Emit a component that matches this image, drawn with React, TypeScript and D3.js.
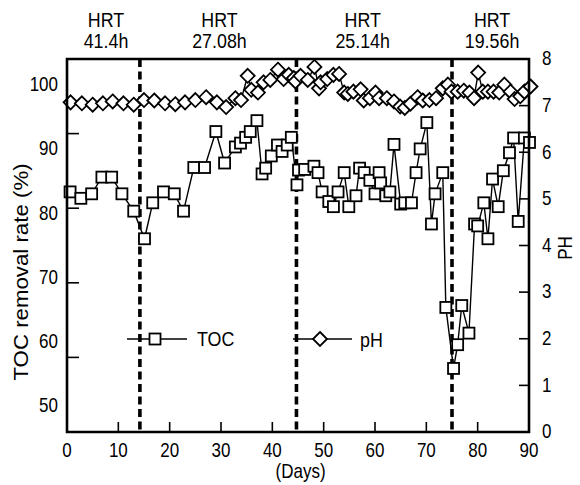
import React from "react";
import * as d3 from "d3";

const tocDays = [0.6, 2.7, 4.8, 6.8, 8.7, 10.7, 13.0, 15.1, 16.7, 18.8, 20.9, 22.7, 24.7, 26.8, 29.0, 30.7, 32.8, 33.8, 34.8, 35.7, 37.0, 38.0, 38.7, 39.8, 41.0, 41.9, 42.9, 43.7, 44.8, 45.1, 46.3, 48.1, 48.9, 49.7, 51.0, 51.9, 52.8, 54.0, 54.9, 56.3, 57.0, 57.9, 59.0, 60.0, 60.8, 61.1, 62.1, 62.9, 63.7, 65.0, 65.8, 67.1, 68.0, 68.8, 70.1, 71.0, 71.7, 73.2, 73.8, 75.3, 76.1, 76.9, 78.3, 79.4, 80.0, 81.2, 82.0, 82.9, 84.0, 85.0, 86.2, 87.0, 87.9, 89.1, 90.1];
const tocValues = [83.5, 82.5, 83.2, 85.8, 85.8, 83.2, 80.5, 76.2, 81.8, 83.5, 83.2, 80.5, 87.3, 87.3, 92.9, 88.0, 90.5, 91.1, 92.0, 92.9, 94.6, 86.3, 87.2, 89.1, 90.8, 89.8, 90.8, 92.0, 84.6, 86.9, 87.0, 87.5, 86.5, 83.5, 82.0, 81.2, 83.5, 86.5, 81.2, 82.9, 87.2, 86.5, 85.3, 83.2, 86.5, 84.9, 82.9, 83.5, 90.9, 81.6, 81.8, 81.8, 86.5, 90.2, 94.3, 78.5, 83.2, 86.5, 65.5, 56.0, 59.7, 65.8, 61.5, 78.5, 78.2, 81.8, 76.2, 85.5, 81.2, 86.8, 89.6, 91.9, 78.9, 91.9, 91.2];

const phDays = [0.7, 2.9, 5.0, 7.0, 8.9, 11.0, 13.0, 15.0, 17.0, 19.1, 21.1, 23.0, 25.0, 27.1, 29.2, 31.0, 32.8, 33.9, 35.2, 35.9, 37.2, 38.3, 39.6, 41.1, 42.2, 43.2, 44.2, 44.5, 45.5, 46.9, 48.2, 49.1, 49.4, 50.7, 51.9, 53.0, 54.0, 54.7, 55.8, 57.2, 57.8, 59.0, 60.1, 60.8, 62.3, 63.7, 64.9, 65.8, 66.9, 68.3, 69.3, 70.6, 71.9, 73.2, 74.2, 74.9, 76.1, 77.3, 78.4, 79.3, 80.1, 81.0, 82.0, 83.1, 84.2, 85.2, 86.4, 87.2, 88.3, 89.1, 90.3];
const phValues = [7.07, 7.05, 7.02, 7.05, 7.09, 7.05, 7.02, 7.12, 7.11, 7.05, 7.03, 7.07, 7.12, 7.18, 7.07, 6.97, 7.16, 7.12, 7.64, 7.34, 7.28, 7.50, 7.55, 7.77, 7.57, 7.66, 7.59, 7.52, 7.64, 7.55, 7.83, 7.37, 7.50, 7.57, 7.66, 7.68, 7.28, 7.25, 7.30, 7.35, 7.11, 7.16, 7.28, 7.16, 7.16, 7.09, 6.98, 6.95, 7.04, 7.18, 7.11, 7.12, 7.16, 7.37, 7.45, 7.30, 7.30, 7.32, 7.28, 7.16, 7.71, 7.30, 7.30, 7.30, 7.28, 7.45, 7.30, 7.14, 7.20, 7.30, 7.41];

const xTicks = [0, 10, 20, 30, 40, 50, 60, 70, 80, 90];
const leftTicks = [50, 60, 70, 80, 90, 100];
const rightTicks = [0, 1, 2, 3, 4, 5, 6, 7, 8];
const hrtDays = [14.2, 44.7, 75.0];
const hrtLabelDays = [7.6, 29.7, 57.6, 82.8];
const hrtLabels = ["41.4h", "27.08h", "25.14h", "19.56h"];

const FONT = "'Liberation Sans', Arial, sans-serif";
const SX = 0.85;

function T({ x, y, size, anchor = "middle", rotate = 0, sx = SX, children }: any) {
  return (
    <text
      transform={`translate(${x},${y}) rotate(${rotate}) scale(${sx},1)`}
      fontSize={size}
      textAnchor={anchor}
      dominantBaseline="middle"
    >
      {children}
    </text>
  );
}

export default function App() {
  const x = d3.scaleLinear().domain([0, 90]).range([67, 529]);
  const yL = d3.scaleLinear().domain([46.1, 104.2]).range([432, 59]);
  const yR = d3.scaleLinear().domain([0, 8]).range([432, 59]);
  const [x0, x1] = x.range();
  const [yb, yt] = yL.range();

  const toc = tocDays.map((d, i) => [d, tocValues[i]] as [number, number]);
  const ph = phDays.map((d, i) => [d, phValues[i]] as [number, number]);
  const tocLine = d3.line<[number, number]>().x((d) => x(d[0])).y((d) => yL(d[1]));
  const phLine = d3.line<[number, number]>().x((d) => x(d[0])).y((d) => yR(d[1]));
  const sq = 11;
  const dm = 7;
  const diamond = (cx: number, cy: number) =>
    `M${cx},${cy - dm}L${cx + dm},${cy}L${cx},${cy + dm}L${cx - dm},${cy}Z`;
  const frameTicks = d3.range(1, 5).map((k) => yt + (k * (yb - yt)) / 5);

  return (
    <svg width={580} height={485} style={{ position: "absolute", left: 0, top: 0, background: "#fff" }} fontFamily={FONT}>
      {hrtDays.map((d, i) => (
        <line key={i} x1={x(d)} x2={x(d)} y1={yt} y2={yb} stroke="#000" strokeWidth={3.6} strokeDasharray="8,4.5" />
      ))}
      <path d={phLine(ph) || ""} fill="none" stroke="#000" strokeWidth={1.4} />
      {ph.map((d, i) => (
        <path key={i} d={diamond(x(d[0]), yR(d[1]))} fill="#fff" stroke="#000" strokeWidth={1.8} />
      ))}
      <path d={tocLine(toc) || ""} fill="none" stroke="#000" strokeWidth={1.4} />
      {toc.map((d, i) => (
        <rect key={i} x={x(d[0]) - sq / 2} y={yL(d[1]) - sq / 2} width={sq} height={sq} fill="#fff" stroke="#000" strokeWidth={1.8} />
      ))}
      <path d={`M${x0},${yt}H${x1}V${yb}H${x0}Z`} fill="none" stroke="#000" strokeWidth={2.6} />
      {xTicks.map((t) => (
        <g key={t}>
          {t > 0 && t < 90 && <line x1={x(t)} x2={x(t)} y1={yb} y2={yb - 10} stroke="#000" strokeWidth={1.6} />}
          <T x={x(t)} y={452} size={20}>{t}</T>
        </g>
      ))}
      <T x={x(45.5)} y={473} size={20}>(Days)</T>
      {frameTicks.map((y, i) => (
        <line key={i} x1={x0} x2={x0 + 12} y1={y} y2={y} stroke="#000" strokeWidth={1.6} />
      ))}
      {leftTicks.map((t) => (
        <T key={t} x={58} y={yL(t)} size={20} anchor="end">{t}</T>
      ))}
      <T x={22} y={272} size={21} rotate={-90} sx={1.06}>TOC removal rate (%)</T>
      {rightTicks.map((t) => (
        <g key={t}>
          {t > 0 && t < 8 && <line x1={x1} x2={x1 - 10} y1={yR(t)} y2={yR(t)} stroke="#000" strokeWidth={1.6} />}
          <T x={542} y={yR(t) + 1} size={20} anchor="start">{t}</T>
        </g>
      ))}
      <T x={567} y={248} size={20} rotate={-90}>PH</T>
      {hrtLabelDays.map((d, i) => (
        <g key={i}>
          <T x={x(d)} y={21} size={21}>HRT</T>
          <T x={x(d)} y={42} size={21}>{hrtLabels[i]}</T>
        </g>
      ))}
      <line x1={127} x2={187} y1={339} y2={339} stroke="#000" strokeWidth={1.6} />
      <rect x={155 - sq / 2} y={339 - sq / 2} width={sq} height={sq} fill="#fff" stroke="#000" strokeWidth={1.8} />
      <T x={197} y={340} size={21} anchor="start">TOC</T>
      <line x1={293} x2={352} y1={339} y2={339} stroke="#000" strokeWidth={1.6} />
      <path d={diamond(320, 339)} fill="#fff" stroke="#000" strokeWidth={1.8} />
      <T x={360} y={341} size={21} anchor="start">pH</T>
    </svg>
  );
}
